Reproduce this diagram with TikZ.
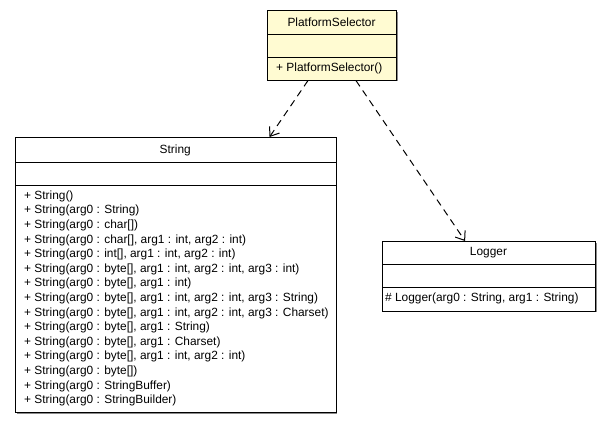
\documentclass[tikz,border=0pt]{standalone}
\usepackage{fontspec}
\setmainfont{Liberation Sans}
\usetikzlibrary{arrows.meta,shadows}
\definecolor{classfill}{HTML}{FFFBD2}
\definecolor{shadowgray}{HTML}{8A8A8A}
\tikzset{>={Straight Barb[length=8pt,width=12pt]},line width=1pt,
  every node/.style={font=\fontsize{11.9}{14.6}\selectfont},
  classbox/.style={draw=black,fill=white,line width=1pt,anchor=north west,inner sep=0pt,
    general shadow={fill=shadowgray,shadow xshift=1.3pt,shadow yshift=-1.3pt}},
  divider/.style={draw=black,line width=1pt},
  title/.style={inner sep=0pt},
  member/.style={align=left,inner sep=0pt},
  dep/.style={->,draw=black,line width=1pt,dash pattern=on 7pt off 5pt}}

\begin{document}
\begin{tikzpicture}[x=1pt,y=-1pt]
\path[use as bounding box] (0,0) rectangle (612,424);
% PlatformSelector
\node[classbox,fill=classfill,minimum width=129pt,minimum height=69.5pt] (ps) at (267,10) {};
\draw[divider] (267,34)--(396,34);\draw[divider] (267,57)--(396,57);
\node[title] (psname) at (331.5,22) {PlatformSelector};
\node[member,anchor=west] (psops) at (276,68.5) {+ PlatformSelector()};
% String
\node[classbox,minimum width=320.5pt,minimum height=275pt] (str) at (15,137) {};
\draw[divider] (15,162.5)--(335.5,162.5);\draw[divider] (15,185)--(335.5,185);
\node[title] (strname) at (175.25,150) {String};
\node[member,anchor=north west] (strops) at (24,190.5) {+ String()\\
+ String(arg0 : String)\\
+ String(arg0 : char[])\\
+ String(arg0 : char[], arg1 : int, arg2 : int)\\
+ String(arg0 : int[], arg1 : int, arg2 : int)\\
+ String(arg0 : byte[], arg1 : int, arg2 : int, arg3 : int)\\
+ String(arg0 : byte[], arg1 : int)\\
+ String(arg0 : byte[], arg1 : int, arg2 : int, arg3 : String)\\
+ String(arg0 : byte[], arg1 : int, arg2 : int, arg3 : Charset)\\
+ String(arg0 : byte[], arg1 : String)\\
+ String(arg0 : byte[], arg1 : Charset)\\
+ String(arg0 : byte[], arg1 : int, arg2 : int)\\
+ String(arg0 : byte[])\\
+ String(arg0 : StringBuffer)\\
+ String(arg0 : StringBuilder)};
% Logger
\node[classbox,minimum width=213pt,minimum height=69.5pt] (log) at (382,241) {};
\draw[divider] (382,264)--(595,264);\draw[divider] (382,287)--(595,287);
\node[title] (logname) at (488.5,252.5) {Logger};
\node[member,anchor=west] (logops) at (385,298.5) {\# Logger(arg0 : String, arg1 : String)};
% dependencies
\draw[dep] (ps)--(str);
\draw[dep] (ps)--(log);
\end{tikzpicture}
\end{document}
